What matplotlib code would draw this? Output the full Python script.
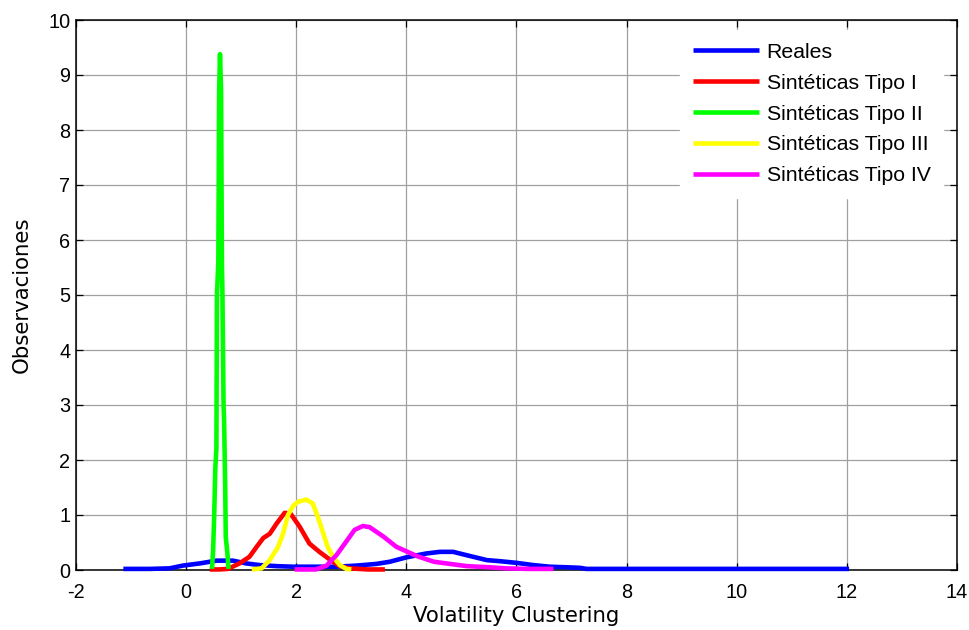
import matplotlib
matplotlib.use("Agg")
import matplotlib.pyplot as plt
from matplotlib.font_manager import FontProperties

# Kernel density estimates of the volatility-clustering statistic
reales_x = [-1.14, -0.66, -0.30, -0.06, 0.25, 0.55, 0.85, 1.09, 1.33, 1.64, 1.94,
            2.36, 2.73, 3.09, 3.45, 3.70, 4.00, 4.36, 4.61, 4.85, 5.09, 5.46,
            5.70, 6.00, 6.30, 6.60, 6.90, 7.15, 7.27, 8.00, 10.00, 12.04]
reales_y = [0.02, 0.02, 0.03, 0.08, 0.12, 0.17, 0.17, 0.12, 0.09, 0.07, 0.06,
            0.06, 0.06, 0.08, 0.11, 0.15, 0.23, 0.30, 0.33, 0.33, 0.27, 0.18,
            0.16, 0.13, 0.09, 0.06, 0.05, 0.04, 0.02, 0.02, 0.02, 0.02]

tipo1_x = [0.43, 0.60, 0.76, 0.97, 1.15, 1.28, 1.40, 1.52, 1.64, 1.79, 1.90,
           2.06, 2.24, 2.42, 2.61, 2.79, 2.97, 3.30, 3.61]
tipo1_y = [0.01, 0.01, 0.02, 0.12, 0.24, 0.42, 0.58, 0.66, 0.84, 1.04, 1.02,
           0.79, 0.48, 0.33, 0.19, 0.07, 0.03, 0.01, 0.01]

tipo2_x = [0.47, 0.49, 0.51, 0.53, 0.55, 0.56, 0.585, 0.60, 0.615, 0.635,
           0.65, 0.66, 0.68, 0.69, 0.71, 0.72, 0.75, 0.77]
tipo2_y = [0.02, 0.35, 1.00, 1.85, 2.20, 5.00, 5.60, 8.70, 9.38, 8.70,
           5.60, 5.00, 3.00, 2.70, 1.50, 0.60, 0.30, 0.02]

tipo3_x = [1.19, 1.37, 1.52, 1.67, 1.76, 1.85, 1.94, 2.03, 2.18, 2.30, 2.39,
           2.48, 2.57, 2.67, 2.79, 2.91, 3.00]
tipo3_y = [0.01, 0.03, 0.18, 0.42, 0.66, 1.00, 1.16, 1.24, 1.28, 1.21, 0.97,
           0.70, 0.42, 0.24, 0.09, 0.02, 0.01]

tipo4_x = [1.97, 2.36, 2.55, 2.73, 2.91, 3.06, 3.21, 3.33, 3.58, 3.82, 4.00,
           4.20, 4.50, 4.80, 5.10, 5.50, 5.80, 6.20, 6.67]
tipo4_y = [0.01, 0.01, 0.08, 0.27, 0.52, 0.73, 0.80, 0.78, 0.61, 0.42, 0.34,
           0.25, 0.15, 0.11, 0.07, 0.05, 0.03, 0.02, 0.02]

series_labels = ["Reales", "Sintéticas Tipo I", "Sintéticas Tipo II",
                 "Sintéticas Tipo III", "Sintéticas Tipo IV"]
series_colors = ["#0000ff", "#ff0000", "#00ff00", "#ffff00", "#ff00ff"]

x_ticks = [-2, 0, 2, 4, 6, 8, 10, 12, 14]
y_ticks = list(range(0, 11))
x_label = "Volatility Clustering"
y_label = "Observaciones"

W, H = 970, 630
fig = plt.figure(figsize=(W / 100, H / 100), dpi=100)
ax = fig.add_axes([76 / W, 60 / H, 881 / W, 550 / H])

tick_font = "Liberation Sans"
label_font = "DejaVu Sans"

series = [(reales_x, reales_y), (tipo1_x, tipo1_y), (tipo2_x, tipo2_y),
          (tipo3_x, tipo3_y), (tipo4_x, tipo4_y)]
for (xs, ys), lab, col in zip(series, series_labels, series_colors):
    ax.plot(xs, ys, color=col, lw=3.3, label=lab, zorder=3,
            clip_on=False, solid_joinstyle="round", solid_capstyle="butt")

ax.set_xlim(-2, 14)
ax.set_ylim(0, 10)
ax.set_xticks(x_ticks)
ax.set_yticks(y_ticks)
ax.set_xticklabels([str(t) for t in x_ticks], fontfamily=tick_font, fontsize=14.3)
ax.set_yticklabels([str(t) for t in y_ticks], fontfamily=tick_font, fontsize=14.3)
ax.tick_params(direction="in", top=True, right=True, length=5, width=0.9,
               colors="black")
ax.tick_params(axis="x", pad=9)
ax.tick_params(axis="y", pad=4)

ax.grid(True, color="#a0a0a0", linewidth=0.9, linestyle="-")
ax.set_axisbelow(True)
for sp in ax.spines.values():
    sp.set_linewidth(1.1)
    sp.set_color("black")

ax.set_xlabel(x_label, fontfamily=label_font, fontsize=15.3)
ax.set_ylabel(y_label, fontfamily=label_font, fontsize=15.3)
ax.xaxis.set_label_coords(0.5, -0.066)
ax.yaxis.set_label_coords(-0.050, 0.5)

leg_fs = 15.3
leg = ax.legend(loc="upper left", bbox_to_anchor=((680 - 76) / 881, (570 - 30) / 550),
                borderaxespad=0, frameon=True, fancybox=False, framealpha=1,
                edgecolor="white", facecolor="white",
                prop=FontProperties(family=tick_font, size=leg_fs),
                handlelength=3.1, handletextpad=0.38, labelspacing=0.56,
                borderpad=0.6)
leg.set_zorder(5)

fig.savefig("out.png", dpi=100)
